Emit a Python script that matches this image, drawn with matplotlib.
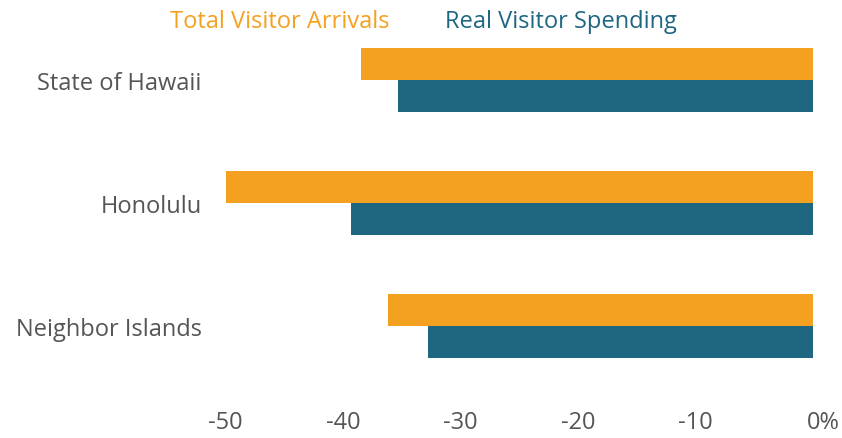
import matplotlib
matplotlib.use("Agg")
import matplotlib.pyplot as plt
import numpy as np
from matplotlib.transforms import ScaledTranslation

regions = ["State of Hawaii", "Honolulu", "Neighbor Islands"]
arrivals = [-38.5, -50.0, -36.2]
spending = [-35.3, -39.3, -32.8]
xticks = [-50, -40, -30, -20, -10, 0]
xticklabels = ["-50", "-40", "-30", "-20", "-10", "0%"]

ORANGE = "#F4A121"
TEAL = "#1F6680"
GRAY = "#555555"
FS = 17

plt.rcParams["font.family"] = ["Open Sans", "DejaVu Sans"]

W, H = 842, 439
fig = plt.figure(figsize=(W / 100, H / 100), dpi=100)
left, right, top, bottom = 218.5, 813, 19.5, 388.5
ax = fig.add_axes([left / W, 1 - bottom / H, (right - left) / W, (bottom - top) / H])

y = np.arange(len(regions))
h = 0.26
ax.barh(y - h / 2, arrivals, height=h, color=ORANGE, edgecolor="none")
ax.barh(y + h / 2, spending, height=h, color=TEAL, edgecolor="none")

ax.set_xlim(-50.6, 0)
ax.set_ylim(2.5, -0.5)
ax.set_yticks(y)
ax.set_yticklabels(regions, fontsize=FS, color=GRAY)
ax.set_xticks(xticks)
ax.set_xticklabels(xticklabels, fontsize=FS, color=GRAY)
ax.tick_params(axis="both", length=0)
ax.tick_params(axis="x", pad=16)
ax.tick_params(axis="y", pad=12)
for s in ax.spines.values():
    s.set_visible(False)

# Shift the "0%" label so the digit sits over the zero tick
lbl = ax.get_xticklabels()[-1]
lbl.set_transform(lbl.get_transform() + ScaledTranslation(10 / 100, 0, fig.dpi_scale_trans))

fig.text(170 / W, 1 - 22 / H, "Total Visitor Arrivals", color=ORANGE, fontsize=FS,
         ha="left", va="center")
fig.text(445 / W, 1 - 22 / H, "Real Visitor Spending", color=TEAL, fontsize=FS,
         ha="left", va="center")

fig.savefig("out.png", dpi=100)
